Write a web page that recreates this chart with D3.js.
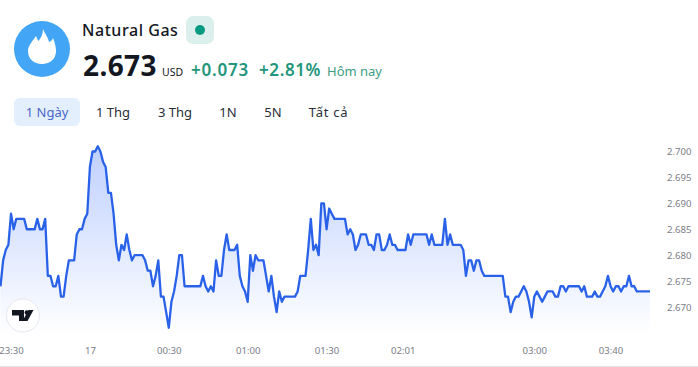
<!DOCTYPE html>
<html>
<head>
<meta charset="utf-8">
<script src="https://cdn.jsdelivr.net/npm/d3@7"></script>
<style>
  html, body { margin: 0; padding: 0; background: #fff; overflow: hidden; }
  svg { display: block; }
  text { font-family: "Noto Sans", sans-serif; }
  .tick text { fill: #7b7e88; font-size: 9.6px; }
</style>
</head>
<body>
<div id="chart"></div>
<script>
// One price per minute
const prices = [
  2.674, 2.679, 2.681, 2.682, 2.688, 2.685, 2.687, 2.687, 2.687, 2.687, 2.685, 2.685,
  2.685, 2.685, 2.687, 2.685, 2.685, 2.687, 2.676, 2.676, 2.674, 2.674, 2.676, 2.672,
  2.672, 2.676, 2.679, 2.679, 2.679, 2.684, 2.685, 2.685, 2.687, 2.688, 2.697, 2.700,
  2.700, 2.701, 2.700, 2.698, 2.697, 2.692, 2.692, 2.688, 2.682, 2.679, 2.682, 2.681,
  2.684, 2.681, 2.679, 2.680, 2.680, 2.680, 2.680, 2.679, 2.677, 2.677, 2.674, 2.676,
  2.679, 2.672, 2.672, 2.669, 2.666, 2.671, 2.673, 2.676, 2.680, 2.680, 2.674, 2.674,
  2.674, 2.674, 2.674, 2.674, 2.674, 2.676, 2.674, 2.673, 2.674, 2.673, 2.679, 2.676,
  2.676, 2.681, 2.684, 2.681, 2.681, 2.681, 2.682, 2.676, 2.674, 2.673, 2.671, 2.680,
  2.677, 2.680, 2.679, 2.679, 2.679, 2.676, 2.673, 2.676, 2.672, 2.669, 2.673, 2.671,
  2.672, 2.672, 2.672, 2.672, 2.672, 2.673, 2.676, 2.676, 2.676, 2.681, 2.687, 2.681,
  2.682, 2.680, 2.690, 2.690, 2.685, 2.689, 2.688, 2.687, 2.687, 2.687, 2.687, 2.687,
  2.684, 2.685, 2.684, 2.681, 2.682, 2.684, 2.684, 2.684, 2.682, 2.682, 2.681, 2.684,
  2.684, 2.681, 2.681, 2.682, 2.684, 2.682, 2.682, 2.681, 2.681, 2.681, 2.681, 2.684,
  2.682, 2.684, 2.684, 2.684, 2.684, 2.684, 2.684, 2.682, 2.684, 2.682, 2.682, 2.682,
  2.682, 2.687, 2.682, 2.684, 2.682, 2.682, 2.682, 2.682, 2.681, 2.676, 2.679, 2.679,
  2.677, 2.679, 2.679, 2.677, 2.676, 2.676, 2.676, 2.676, 2.676, 2.676, 2.676, 2.676,
  2.672, 2.672, 2.669, 2.671, 2.672, 2.672, 2.673, 2.674, 2.673, 2.671, 2.668, 2.672,
  2.673, 2.672, 2.671, 2.672, 2.673, 2.673, 2.673, 2.672, 2.672, 2.674, 2.674, 2.673,
  2.674, 2.674, 2.674, 2.674, 2.674, 2.673, 2.674, 2.672, 2.672, 2.672, 2.673, 2.672,
  2.672, 2.673, 2.674, 2.676, 2.674, 2.673, 2.674, 2.674, 2.673, 2.674, 2.674, 2.676,
  2.674, 2.674, 2.673, 2.673, 2.673, 2.673, 2.673, 2.673
];
const priceTicks = [2.670, 2.675, 2.680, 2.685, 2.690, 2.695, 2.700];
const timeLabels = ["23:30", "17", "00:30", "01:00", "01:30", "02:01", "03:00", "03:40"];
const timeIndexes = [4, 34, 64, 94, 124, 153, 203, 232];
const ranges = ["1 Ngày", "1 Thg", "3 Thg", "1N", "5N", "Tất cả"];
const rangeCenters = [47, 113, 175, 228, 273, 328.5];

const width = 698, height = 367;
const svg = d3.select("#chart").append("svg").attr("width", width).attr("height", height);

// gradient under the line
const defs = svg.append("defs");
const grad = defs.append("linearGradient")
    .attr("id", "areaFill").attr("gradientUnits", "userSpaceOnUse")
    .attr("x1", 0).attr("x2", 0).attr("y1", 146).attr("y2", 336);
grad.append("stop").attr("offset", 0).attr("stop-color", "#2962ff").attr("stop-opacity", 0.3);
grad.append("stop").attr("offset", 1).attr("stop-color", "#2962ff").attr("stop-opacity", 0);

// scales
const xScale = d3.scaleLinear().domain([0, prices.length - 1]).range([0.5, 650]);
const yScale = d3.scaleLinear().domain([2.670, 2.700]).range([307, 151.5]);

const area = d3.area().x((d, i) => xScale(i)).y0(336).y1(d => yScale(d));
const line = d3.line().x((d, i) => xScale(i)).y(d => yScale(d));

svg.append("path").datum(prices).attr("fill", "url(#areaFill)").attr("d", area);
svg.append("path").datum(prices)
    .attr("fill", "none")
    .attr("stroke", "#2962e8")
    .attr("stroke-width", 2.3)
    .attr("stroke-linejoin", "round")
    .attr("d", line);

// axes
const yAxis = svg.append("g")
    .attr("transform", "translate(667,0)")
    .call(d3.axisRight(yScale).tickValues(priceTicks).tickFormat(d3.format(".3f")).tickSize(0).tickPadding(0));
yAxis.select(".domain").remove();

const xAxis = svg.append("g")
    .attr("transform", "translate(0,347)")
    .call(d3.axisBottom(xScale).tickValues(timeIndexes).tickFormat((d, i) => timeLabels[i]).tickSize(0).tickPadding(0));
xAxis.select(".domain").remove();

svg.append("line")
    .attr("x1", 0).attr("x2", width).attr("y1", 366.5).attr("y2", 366.5)
    .attr("stroke", "#e4e4e4");

// TradingView badge
const tv = svg.append("g").attr("transform", "translate(23,315.5)");
tv.append("circle").attr("r", 16.5).attr("fill", "#fff").attr("stroke", "#e6e8ee");
tv.append("path").attr("fill", "#131722")
    .attr("d", "M-11,-5.5H1V5.5H-4V0H-11Z");
tv.append("circle").attr("cx", 3.8).attr("cy", -3).attr("r", 2.2).attr("fill", "#131722");
tv.append("path").attr("fill", "#131722").attr("d", "M5.5,-5.5H10.5L4.5,5.5H-0.5Z");

// header icon
const icon = svg.append("g").attr("transform", "translate(42,49)");
icon.append("circle").attr("r", 28).attr("fill", "#42a5f5");
icon.append("path").attr("fill", "#fff")
    .attr("d", "M1,-20C3,-15 6,-12 7,-7C9,-8 10.5,-9 11,-11C13,-6 14,-2 14,2C14,10 8,15 0,15C-8,15 -14,10 -14,2C-14,-4 -9,-8 -6,-13C-5,-11 -4.5,-9 -3.5,-8C-1,-11 1,-15 1,-20Z");

svg.append("text").attr("x", 82).attr("y", 36)
    .attr("font-size", 16).attr("font-weight", 500).attr("letter-spacing", 0.55).attr("fill", "#131722").text("Natural Gas");
svg.append("rect").attr("x", 186).attr("y", 16).attr("width", 28).attr("height", 28).attr("rx", 7).attr("fill", "#dbf0ec");
svg.append("circle").attr("cx", 200).attr("cy", 30).attr("r", 5).attr("fill", "#089981");

svg.append("text").attr("x", 83).attr("y", 76)
    .attr("font-size", 28).attr("font-weight", 700).attr("letter-spacing", 0.4).attr("fill", "#131722").text("2.673");
svg.append("text").attr("x", 162).attr("y", 76)
    .attr("font-size", 10.5).attr("fill", "#131722").text("USD");
svg.append("text").attr("x", 191).attr("y", 76)
    .attr("font-size", 17).attr("font-weight", 600).attr("letter-spacing", 0.8).attr("fill", "#22957a").text("+0.073");
svg.append("text").attr("x", 259).attr("y", 76)
    .attr("font-size", 17).attr("font-weight", 600).attr("letter-spacing", 0.6).attr("fill", "#22957a").text("+2.81%");
svg.append("text").attr("x", 327).attr("y", 76)
    .attr("font-size", 13).attr("fill", "#3f9c86").text("Hôm nay");

// range buttons
svg.append("rect").attr("x", 14).attr("y", 98).attr("width", 66).attr("height", 28).attr("rx", 6).attr("fill", "#e3effd");
svg.selectAll(".range")
    .data(ranges)
    .enter()
    .append("text")
    .attr("class", "range")
    .attr("x", (d, i) => rangeCenters[i])
    .attr("y", 117)
    .attr("text-anchor", "middle")
    .attr("font-size", 13)
    .attr("letter-spacing", (d, i) => i === 5 ? 0.7 : 0)
    .attr("fill", (d, i) => i === 0 ? "#4a68c8" : "#2a2e39")
    .text(d => d);
</script>
</body>
</html>
